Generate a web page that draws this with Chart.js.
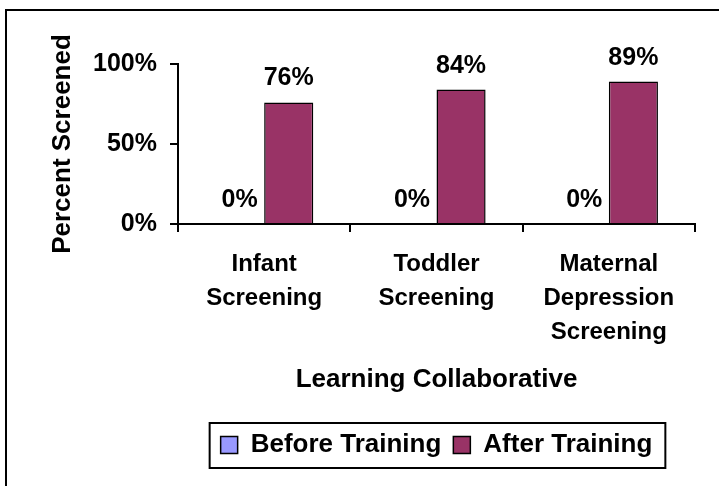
<!DOCTYPE html>
<html lang="en">
<head>
<meta charset="UTF-8">
<title>Percent Screened by Learning Collaborative</title>
<script src="https://cdn.jsdelivr.net/npm/chart.js"></script>
<style>
    html, body { margin: 0; padding: 0; background: #fff; }
</style>
</head>
<body>
<canvas id="chart" width="719" height="486"></canvas>
<script>
// data
const categories = [['Infant', 'Screening'], ['Toddler', 'Screening'], ['Maternal', 'Depression', 'Screening']];
const beforeTraining = [0, 0, 0];
const afterTraining = [76, 84, 89];
const yTicks = [0, 50, 100];

const FONT = "'Liberation Sans', Arial, sans-serif";

// white background, outer frame and box round the legend
const framePlugin = {
    id: 'frame',
    beforeDraw(chart) {
        const ctx = chart.ctx;
        ctx.save();
        ctx.fillStyle = '#fff';
        ctx.fillRect(0, 0, chart.width, chart.height);
        ctx.restore();
    },
    afterDraw(chart) {
        const ctx = chart.ctx;
        ctx.save();
        ctx.strokeStyle = '#000';
        ctx.lineWidth = 2;
        ctx.strokeRect(6, 10, 800, 600);
        const boxes = chart.legend.legendHitBoxes;
        if (boxes && boxes.length) {
            const first = boxes[0], last = boxes[boxes.length - 1];
            const cy = first.top + first.height / 2;
            const left = first.left - 11;
            const right = last.left + last.width + 13;
            ctx.strokeRect(left, cy - 22, right - left, 45);
        }
        ctx.restore();
    }
};

// percentage labels above each bar
const valueLabels = {
    id: 'valueLabels',
    afterDatasetsDraw(chart) {
        const ctx = chart.ctx;
        ctx.save();
        ctx.font = 'bold 25px ' + FONT;
        ctx.fillStyle = '#000';
        ctx.textAlign = 'center';
        ctx.textBaseline = 'alphabetic';
        chart.data.datasets.forEach((ds, i) => {
            chart.getDatasetMeta(i).data.forEach((bar, j) => {
                ctx.fillText(ds.data[j] + '%', bar.x, bar.y - 17);
            });
        });
        ctx.restore();
    }
};

new Chart(document.getElementById('chart'), {
    type: 'bar',
    data: {
        labels: categories,
        datasets: [{
            label: 'Before Training',
            data: beforeTraining,
            backgroundColor: '#9999FF',
            borderColor: '#000',
            borderWidth: 1.5
        }, {
            label: 'After Training',
            data: afterTraining,
            backgroundColor: '#993366',
            borderColor: '#000',
            borderWidth: 1.5
        }]
    },
    options: {
        responsive: false,
        animation: false,
        layout: { padding: { top: 64, right: 24, bottom: 18, left: 0 } },
        datasets: { bar: { categoryPercentage: 0.57, barPercentage: 1 } },
        scales: {
            x: {
                afterFit(s) { s.height = 196; },
                grid: { drawOnChartArea: false, tickLength: 8, color: '#000', lineWidth: 2 },
                border: { color: '#000', width: 2 },
                ticks: {
                    color: '#000', padding: 16, maxRotation: 0,
                    font: { family: FONT, size: 24, weight: 'bold', lineHeight: 1.4 }
                },
                title: {
                    display: true, text: 'Learning Collaborative', color: '#000',
                    padding: { top: 0, bottom: 25 },
                    font: { family: FONT, size: 26, weight: 'bold' }
                }
            },
            y: {
                min: 0, max: 100,
                afterFit(s) { s.width = 178; },
                afterBuildTicks(s) { s.ticks = yTicks.map(v => ({ value: v })); },
                grid: { drawOnChartArea: false, tickLength: 8, color: '#000', lineWidth: 2 },
                border: { color: '#000', width: 2 },
                ticks: {
                    color: '#000', padding: 13,
                    callback: v => v + '%',
                    font: { family: FONT, size: 25, weight: 'bold' }
                },
                title: {
                    display: true, text: 'Percent Screened', color: '#000',
                    padding: { top: 47, bottom: 0 },
                    font: { family: FONT, size: 26, weight: 'bold' }
                }
            }
        },
        plugins: {
            tooltip: { enabled: false },
            legend: {
                position: 'bottom',
                fullSize: false,
                labels: {
                    color: '#000', boxWidth: 17, boxHeight: 17, padding: 12,
                    font: { family: FONT, size: 26, weight: 'bold' }
                }
            }
        }
    },
    plugins: [framePlugin, valueLabels]
});
</script>
</body>
</html>
